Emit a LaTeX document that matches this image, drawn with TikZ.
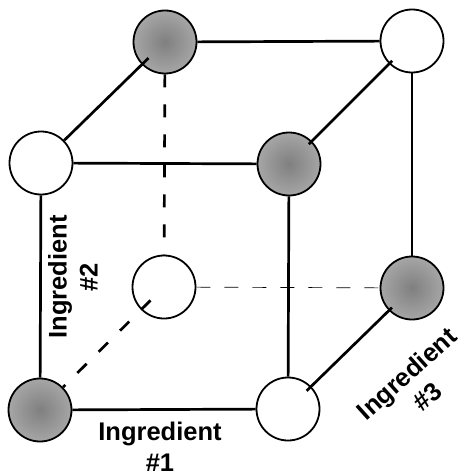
\documentclass[tikz,border=0pt]{standalone}
\usepackage{fontspec}
\setmainfont{Liberation Sans}
\usetikzlibrary{calc}
\begin{document}
\begin{tikzpicture}[x=1pt,y=-1pt,
  ball/.style={circle,draw=black,line width=1.8pt,minimum size=63pt,inner sep=0pt},
  shaded/.style={ball,shading=radial,inner color=black!50,outer color=black!35},
  plain/.style={ball,fill=white},
  edge/.style={line width=2.7pt},
  hid/.style={line width=2.7pt,dash pattern=on 13pt off 17pt},
  thinhid/.style={line width=0.7pt,dash pattern=on 14pt off 14pt},
  lab/.style={font=\fontsize{25.5}{31}\selectfont\bfseries,align=center,inner sep=0pt}]
\useasboundingbox (0,0) rectangle (460,476);
% nodes
\node[shaded] (bfl) at (40,410) {};
\node[plain]  (bfr) at (288,409) {};
\node[plain]  (tfl) at (41,163) {};
\node[shaded] (tfr) at (289,164) {};
\node[shaded] (tbl) at (165,42) {};
\node[plain]  (tbr) at (412,41) {};
\node[plain]  (bbl) at (164,287) {};
\node[shaded] (bbr) at (412,288) {};
% hidden dashed edges
\draw[thinhid] (bbl) -- (bbr);
\draw[hid] (tbl) -- (bbl);
\draw[hid,shorten <=19pt] (bbl.center) -- (bfl);
% solid edges
\draw[edge] (bfl) -- (bfr);
\draw[edge] (bfl) -- (tfl);
\draw[edge] (tfl) -- (tfr);
\draw[edge] (tfr) -- (bfr);
\draw[edge] (tbl) -- (tbr);
\draw[edge] (tbr) -- (bbr);
\draw[edge,shorten >=23pt] (tfl) -- (tbl.center);
\draw[edge,shorten >=28pt,shorten <=28pt] (tfr.center) -- (tbr.center);
\draw[edge,shorten >=26pt,shorten <=28pt] (bbr.center) -- (bfr.center);
% labels
\node[lab] (l1) at (160,447) {Ingredient\\\#1};
\node[lab,rotate=90] (l2) at (73,277) {Ingredient\\\#2};
\node[lab,rotate=42] (l3) at (417,385) {Ingredient\\\#3};
\end{tikzpicture}
\end{document}
